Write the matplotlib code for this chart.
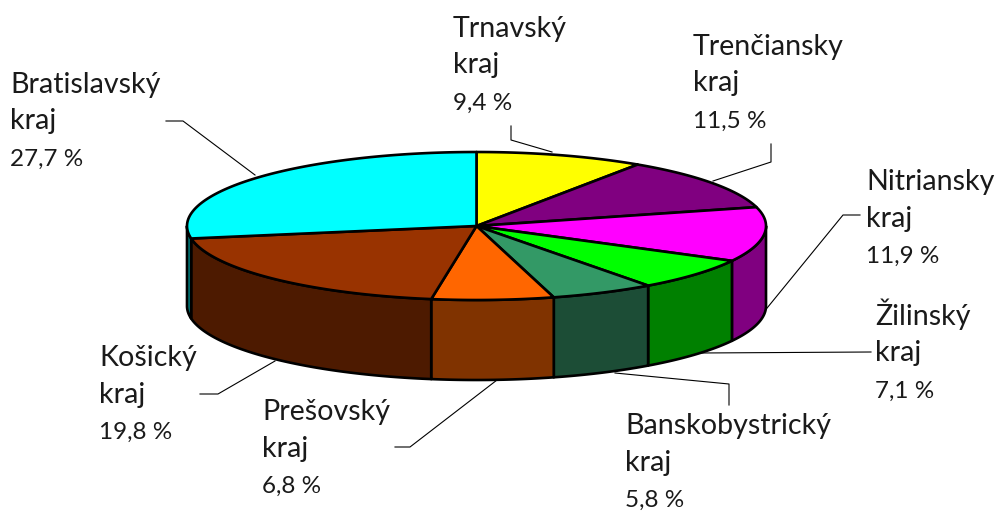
import numpy as np
import matplotlib
matplotlib.use('Agg')
import matplotlib.pyplot as plt
from matplotlib.patches import Polygon

# Data
regions = ['Trnavský', 'Trenčiansky', 'Nitriansky', 'Žilinský',
           'Banskobystrický', 'Prešovský', 'Košický', 'Bratislavský']
shares = [9.4, 11.5, 11.9, 7.1, 5.8, 6.8, 19.8, 27.7]
top_colors = ['#ffff00', '#800080', '#ff00ff', '#00ff00',
              '#339966', '#ff6600', '#993300', '#00ffff']
side_colors = ['#808000', '#400040', '#800080', '#008000',
               '#1c4d36', '#803300', '#4d1a00', '#008080']

# Label position (px, first baseline) of each region, same order as regions
label_x = [453, 693, 866, 875, 625, 262, 99, 10]
label_y = [37, 55, 190, 325, 434, 420, 366, 93]

# Leader lines in px
leaders = [
    [(511, 126), (511, 140), (552, 152)],
    [(771, 144), (771, 162), (713, 181)],
    [(860, 215), (843, 215), (763, 313)],
    [(871, 352), (700, 353)],
    [(729, 405), (729, 384), (615, 373)],
    [(395, 447), (410, 447), (497, 380)],
    [(200, 394), (218, 394), (275, 361)],
    [(166, 121), (183, 121), (255, 175)],
]

# Pie geometry in px
cx, cy = 476.5, 226
rx, ry = 289.5, 74
depth = 80
line_step = 36.5

plt.rcParams['font.family'] = ['Lato', 'DejaVu Sans']

fig = plt.figure(figsize=(9.98, 5.12), dpi=100)
ax = fig.add_axes([0, 0, 1, 1])
ax.set_xlim(0, 998)
ax.set_ylim(512, 0)
ax.axis('off')


def rim(a1, a2, dy=0):
    # a1, a2 - degrees clockwise from the top of the pie
    t = np.radians(np.linspace(a1, a2, 80))
    return np.column_stack((cx + rx * np.sin(t), cy + dy - ry * np.cos(t)))


for line in leaders:
    xs, ys = zip(*line)
    ax.plot(xs, ys, color='black', lw=0.8, zorder=1)

edges = np.concatenate(([0], np.cumsum(shares))) * 360 / sum(shares)

# Side walls, only the front half (90-270 deg) is visible
for i in range(len(shares)):
    a1 = max(edges[i], 90)
    a2 = min(edges[i + 1], 270)
    if a1 < a2:
        pts = np.vstack((rim(a1, a2), rim(a2, a1, depth)))
        ax.add_patch(Polygon(pts, closed=True, facecolor=side_colors[i],
                             edgecolor='black', lw=1.9, joinstyle='round', zorder=2))

# Top of the pie
for i in range(len(shares)):
    pts = np.vstack(([(cx, cy)], rim(edges[i], edges[i + 1])))
    ax.add_patch(Polygon(pts, closed=True, facecolor=top_colors[i],
                         edgecolor='black', lw=1.9, joinstyle='round', zorder=3))

# Labels
for i in range(len(regions)):
    val = str(shares[i]).replace('.', ',')
    ax.text(label_x[i], label_y[i], regions[i], fontsize=20.6, color='#1a1a1a',
            ha='left', va='baseline', zorder=4)
    ax.text(label_x[i], label_y[i] + line_step, 'kraj', fontsize=20.6, color='#1a1a1a',
            ha='left', va='baseline', zorder=4)
    ax.text(label_x[i], label_y[i] + 2 * line_step, f'{val} %', fontsize=17.5, color='#1a1a1a',
            ha='left', va='baseline', zorder=4)

fig.savefig('out.png', dpi=100)
